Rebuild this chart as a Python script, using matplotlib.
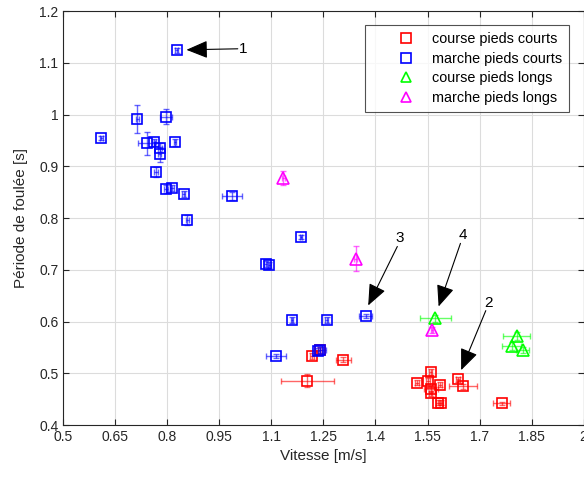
import matplotlib
matplotlib.use("Agg")
import matplotlib.pyplot as plt
from matplotlib.legend_handler import HandlerLine2D

plt.rcParams["font.family"] = ["Liberation Sans", "DejaVu Sans"]

# course pieds courts
cpc_v = [1.217, 1.240, 1.307, 1.204, 1.520, 1.559, 1.551, 1.585, 1.560, 1.559, 1.580, 1.589, 1.638, 1.652, 1.764]
cpc_p = [0.533, 0.545, 0.526, 0.486, 0.482, 0.502, 0.485, 0.478, 0.470, 0.461, 0.443, 0.443, 0.488, 0.475, 0.442]
cpc_xe = [0.006, 0.006, 0.022, 0.075, 0.005, 0.005, 0.005, 0.006, 0.019, 0.005, 0.005, 0.005, 0.006, 0.041, 0.025]
cpc_ye = [0.006, 0.006, 0.005, 0.013, 0.005, 0.006, 0.005, 0.005, 0.006, 0.005, 0.005, 0.005, 0.005, 0.005, 0.003]

# marche pieds courts
mpc_v = [0.827, 0.609, 0.713, 0.795, 0.740, 0.761, 0.778, 0.778, 0.822, 0.767, 0.797, 0.813,
         0.847, 0.987, 0.858, 1.186, 1.083, 1.094, 1.159, 1.259, 1.372, 1.113, 1.233, 1.241]
mpc_p = [1.124, 0.954, 0.991, 0.996, 0.944, 0.946, 0.936, 0.923, 0.946, 0.889, 0.856, 0.858,
         0.846, 0.842, 0.796, 0.763, 0.711, 0.709, 0.603, 0.603, 0.610, 0.533, 0.543, 0.545]
mpc_xe = [0.004, 0.004, 0.004, 0.017, 0.024, 0.006, 0.006, 0.005, 0.004, 0.005, 0.006, 0.005,
          0.004, 0.029, 0.004, 0.003, 0.005, 0.005, 0.003, 0.004, 0.019, 0.029, 0.006, 0.015]
mpc_ye = [0.005, 0.004, 0.027, 0.015, 0.022, 0.006, 0.008, 0.015, 0.006, 0.010, 0.007, 0.006,
          0.006, 0.008, 0.010, 0.004, 0.005, 0.006, 0.005, 0.005, 0.004, 0.004, 0.005, 0.006]

# course pieds longs
cpl_v = [1.573, 1.807, 1.793, 1.825]
cpl_p = [0.606, 0.572, 0.553, 0.545]
cpl_xe = [0.044, 0.038, 0.027, 0.019]
cpl_ye = [0.006, 0.008, 0.008, 0.006]

# marche pieds longs
mpl_v = [1.134, 1.343, 1.563]
mpl_p = [0.877, 0.721, 0.584]
mpl_xe = [0.004, 0.005, 0.004]
mpl_ye = [0.013, 0.024, 0.006]

x_ticks = [0.5, 0.65, 0.8, 0.95, 1.1, 1.25, 1.4, 1.55, 1.7, 1.85, 2]
x_labels = ["0.5", "0.65", "0.8", "0.95", "1.1", "1.25", "1.4", "1.55", "1.7", "1.85", "2"]
y_ticks = [0.4, 0.5, 0.6, 0.7, 0.8, 0.9, 1.0, 1.1, 1.2]
y_labels = ["0.4", "0.5", "0.6", "0.7", "0.8", "0.9", "1", "1.1", "1.2"]

# (label, text pos, arrow tail, arrow head)
notes = [
    ("1", (1.018, 1.127), (1.003, 1.127), (0.855, 1.125)),
    ("2", (1.727, 0.636), (1.718, 0.621), (1.647, 0.506)),
    ("3", (1.470, 0.761), (1.463, 0.745), (1.379, 0.631)),
    ("4", (1.652, 0.767), (1.645, 0.751), (1.582, 0.629)),
]

fig = plt.figure(figsize=(5.84, 4.79), dpi=100)
ax = fig.add_axes([0.1084, 0.1127, 0.8909, 0.8643])

series = [
    (cpc_v, cpc_p, cpc_xe, cpc_ye, "s", 7.5, (1, 0, 0), "course pieds courts"),
    (mpc_v, mpc_p, mpc_xe, mpc_ye, "s", 7.5, (0, 0, 1), "marche pieds courts"),
    (cpl_v, cpl_p, cpl_xe, cpl_ye, "^", 9, (0, 1, 0), "course pieds longs"),
    (mpl_v, mpl_p, mpl_xe, mpl_ye, "^", 9, (1, 0, 1), "marche pieds longs"),
]
handles = []
for v, p, xe, ye, m, ms, c, lab in series:
    ax.errorbar(v, p, xerr=xe, yerr=ye, fmt="none", ecolor=c, elinewidth=1.0,
                capsize=2.5, capthick=1.0, alpha=0.6, zorder=3)
    h, = ax.plot(v, p, ls="none", marker=m, ms=ms, mfc="none", mec=c, mew=1.2,
                 label=lab, zorder=4)
    handles.append(h)

for lab, txt, tail, head in notes:
    ax.annotate("", xy=head, xytext=tail,
                arrowprops=dict(arrowstyle="-|>,head_length=0.6,head_width=0.25", color="k",
                                lw=0.8, mutation_scale=22, shrinkA=0, shrinkB=0), zorder=5)
    ax.text(txt[0], txt[1], lab, fontsize=11, ha="center", va="center", color="k", zorder=5)

ax.set_xlim(0.5, 2)
ax.set_ylim(0.4, 1.2)
ax.set_xticks(x_ticks)
ax.set_xticklabels(x_labels)
ax.set_yticks(y_ticks)
ax.set_yticklabels(y_labels)
ax.grid(True, color="#dcdcdc", lw=0.8)
ax.set_axisbelow(True)
ax.tick_params(direction="in", top=True, right=True, labelsize=10, colors="#262626", length=4)
for s in ax.spines.values():
    s.set_color("#262626")
    s.set_linewidth(0.8)
ax.set_xlabel("Vitesse [m/s]", fontsize=11, color="#262626")
ax.set_ylabel("Période de foulée [s]", fontsize=11, color="#262626", labelpad=8)

# MATLAB-like legend: wide token area on the left
leg = ax.legend(handles=handles, loc="upper right", bbox_to_anchor=(0.972, 0.966),
                fontsize=10.4, frameon=True, fancybox=False, edgecolor="#262626",
                handlelength=3.64, handletextpad=0.5, borderpad=0.5, labelspacing=0.38,
                borderaxespad=0, handler_map={h: HandlerLine2D(xpad=1.04) for h in handles})
leg.get_frame().set_linewidth(0.8)
for h in leg.legend_handles:
    h.set_markersize(6.5)

fig.savefig("out.png", dpi=100)
